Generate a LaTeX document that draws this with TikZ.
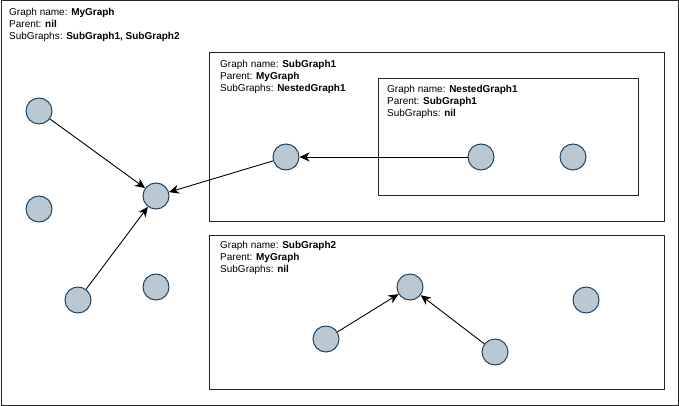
\documentclass[tikz,border=0pt]{standalone}
\usepackage{fontspec}
\setmainfont{Liberation Sans}
\usetikzlibrary{arrows.meta}
\definecolor{nodefill}{HTML}{BAC8D3}
\definecolor{nodeline}{HTML}{23445D}
\begin{document}
\begin{tikzpicture}[x=1pt, y=-1pt]
      \tikzstyle{vnode} = [draw=nodeline, fill=nodefill, line width=1pt, circle, minimum size=26pt, inner sep=0pt]
      \tikzstyle{info} = [anchor=north west, align=left, inner sep=0pt, font=\fontsize{10}{12}\selectfont]
      \tikzstyle{gbox} = [draw=black!85, line width=1pt]
      \tikzstyle{edge} = [-{Stealth[length=10pt, width=9pt, inset=3pt]}, line width=0.9pt]
      \useasboundingbox (0,0) rectangle (679,406);

      % graph boxes
      \draw[gbox] (1,1) rectangle (678,405);
      \draw[gbox] (209,53) rectangle (664,221);
      \draw[gbox] (378,79) rectangle (638,195);
      \draw[gbox] (209,235) rectangle (664,389);

      \node[info] (t0) at (9,8) {Graph name: \textbf{MyGraph}\\Parent: \textbf{nil}\\SubGraphs: \textbf{SubGraph1, SubGraph2}};
      \node[info] (t1) at (220,60) {Graph name: \textbf{SubGraph1}\\Parent: \textbf{MyGraph}\\SubGraphs: \textbf{NestedGraph1}};
      \node[info] (t2) at (387,85) {Graph name: \textbf{NestedGraph1}\\Parent: \textbf{SubGraph1}\\SubGraphs: \textbf{nil}};
      \node[info] (t3) at (220,241) {Graph name: \textbf{SubGraph2}\\Parent: \textbf{MyGraph}\\SubGraphs: \textbf{nil}};

      % MyGraph
      \node[vnode] (m1) at (39,111) {};
      \node[vnode] (m2) at (39,209) {};
      \node[vnode] (m3) at (156,196) {};
      \node[vnode] (m4) at (78,300) {};
      \node[vnode] (m5) at (156,287) {};

      % SubGraph1 and NestedGraph1
      \node[vnode] (s1) at (286,157) {};
      \node[vnode] (n1) at (481,157) {};
      \node[vnode] (n2) at (573,157) {};

      % SubGraph2
      \node[vnode] (s2) at (410,287) {};
      \node[vnode] (s3) at (326,339) {};
      \node[vnode] (s4) at (495,352) {};
      \node[vnode] (s5) at (586,300) {};

      \draw[edge] (m1) to (m3);
      \draw[edge] (m4) to (m3);
      \draw[edge] (s1) to (m3);
      \draw[edge] (n1) to (s1);
      \draw[edge] (s3) to (s2);
      \draw[edge] (s4) to (s2);
    \end{tikzpicture}
\end{document}
